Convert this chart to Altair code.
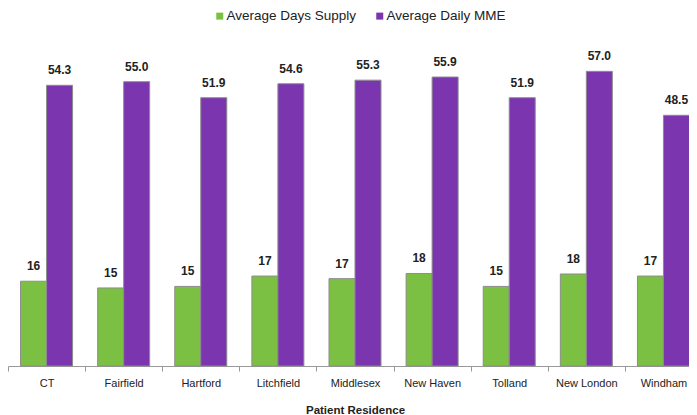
import altair as alt
import pandas as pd

regions = ["CT", "Fairfield", "Hartford", "Litchfield", "Middlesex",
           "New Haven", "Tolland", "New London", "Windham"]
days_supply = [16.4, 15.1, 15.4, 17.4, 16.9, 17.9, 15.4, 17.8, 17.4]
daily_mme = [54.3, 55.0, 51.9, 54.6, 55.3, 55.9, 51.9, 57.0, 48.5]
series = ["Average Days Supply", "Average Daily MME"]
colors = ["#7CC043", "#7A35AF"]
label_formats = [".0f", ".1f"]

rows = []
for i, r in enumerate(regions):
    for s, vals, fmt in zip(series, [days_supply, daily_mme], label_formats):
        rows.append({"region": r, "series": s, "value": vals[i],
                     "label": format(vals[i], fmt)})
df = pd.DataFrame(rows)

FONT = "Liberation Sans"

base = alt.Chart(df).encode(
    x=alt.X("region:N", sort=regions,
            scale=alt.Scale(paddingInner=0, paddingOuter=0, range=[0, 694]),
            axis=alt.Axis(title="Patient Residence", labelAngle=0, tickBand="extent",
                          domainColor="#999999", tickColor="#999999", tickSize=5,
                          labelFont=FONT, labelFontSize=11, labelColor="#222222",
                          labelPadding=6, titleFont=FONT, titleFontSize=11.5,
                          titleFontWeight="bold", titleColor="#222222", titlePadding=16,
                          grid=False)),
    xOffset=alt.XOffset("series:N", sort=series,
                        scale=alt.Scale(paddingOuter=0.483, paddingInner=0)),
    y=alt.Y("value:Q", scale=alt.Scale(domain=[0, 65]), axis=None),
)

bars = base.mark_bar(stroke="#8c8c8c", strokeWidth=1).encode(
    color=alt.Color("series:N", sort=series,
                    scale=alt.Scale(domain=series, range=colors),
                    legend=alt.Legend(title=None, orient="none", legendX=205, legendY=-21,
                                      direction="horizontal", symbolType="square",
                                      symbolSize=49, symbolStrokeWidth=0,
                                      labelFont=FONT, labelFontSize=13.5,
                                      labelColor="#222222", columnPadding=16,
                                      labelOffset=0))
)

text = base.mark_text(baseline="bottom", dy=-8, fontWeight="bold", fontSize=12,
                      font=FONT, color="#222222").encode(text="label:N")

chart = (bars + text).properties(
    width=681, height=336,
    autosize=alt.AutoSizeParams(type="none"),
    padding={"left": 0, "top": 22, "right": 0, "bottom": 48},
).configure_view(stroke=None)

chart.save("out.html", embed_options={"renderer": "svg", "actions": False})
